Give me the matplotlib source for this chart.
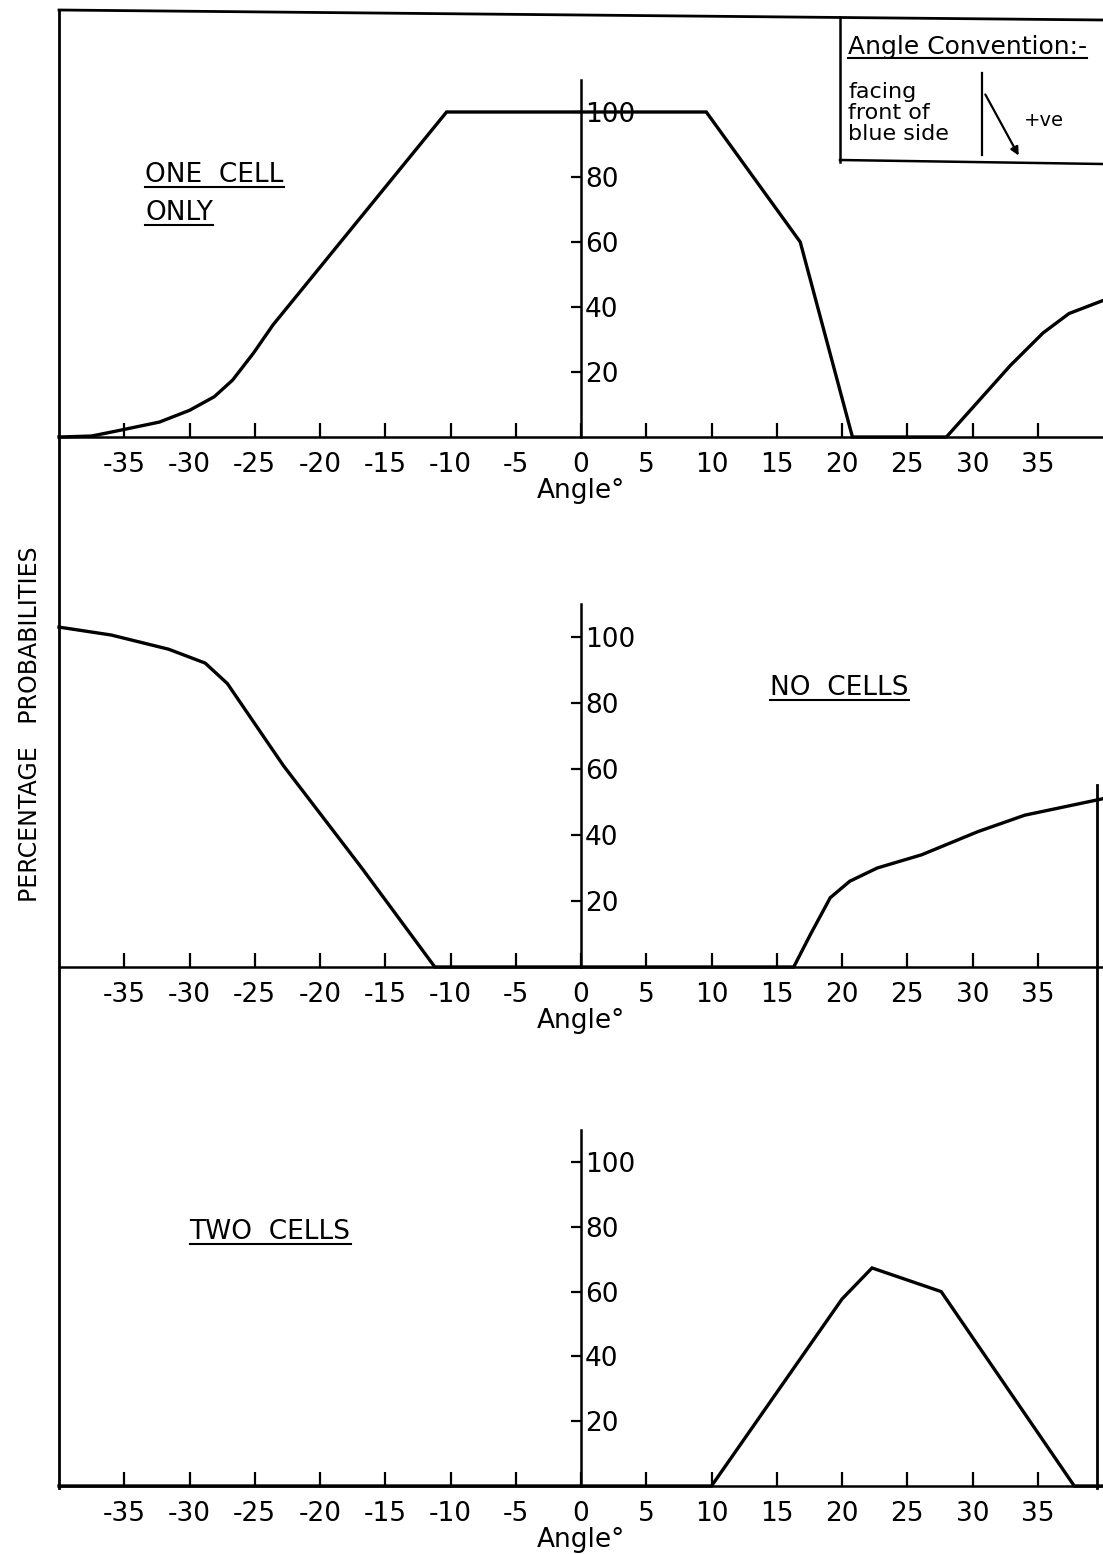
import matplotlib
matplotlib.use("Agg")
import matplotlib.pyplot as plt
import matplotlib.font_manager as fm
from matplotlib.lines import Line2D
from matplotlib.transforms import IdentityTransform

# angle (deg) vs percentage probability
one_x = [-40, -37.5, -35.4, -32.3, -30, -28.1, -26.7, -25.1, -23.6, -10.3, 9.6, 16.8, 20.8, 28.0, 32.9, 35.4, 37.4, 40]
one_y = [0, 0.3, 2, 4.6, 8.2, 12.4, 17.5, 25.8, 34.5, 100, 100, 60, 0, 0, 22, 32, 38, 42]

none_x = [-40, -36, -31.6, -28.8, -27.1, -22.8, -16.8, -11.2, 16.3, 17.6, 19.1, 20.6, 22.7, 26.1, 30.4, 34.0, 40]
none_y = [103, 100.6, 96.3, 92.1, 85.9, 61, 30, 0, 0, 10, 21, 26, 30, 34, 41, 46, 51]

two_x = [-40, 10, 20, 22.3, 27.6, 37.8, 40]
two_y = [0, 0, 57.7, 67.3, 60, 0, 0]

x_ticks = [-35, -30, -25, -20, -15, -10, -5, 0, 5, 10, 15, 20, 25, 30, 35]
y_ticks = [20, 40, 60, 80, 100]
panel_titles = [["ONE  CELL", "ONLY"], ["NO  CELLS"], ["TWO  CELLS"]]

avail = {f.name for f in fm.fontManager.ttflist}
narrow = "Liberation Sans Narrow" if "Liberation Sans Narrow" in avail else "DejaVu Sans"
plt.rcParams["font.family"] = [narrow, "DejaVu Sans"]

W, H = 1103, 1554
fig = plt.figure(figsize=(W / 100, H / 100), dpi=100)


def fx(px):
    return px / W


def fy(py):
    return (H - py) / H


def fig_line(xs, ys, lw=1.8, **kw):
    fig.add_artist(Line2D([fx(v) for v in xs], [fy(v) for v in ys],
                          transform=fig.transFigure, color="black", lw=lw, **kw))


# (pixel row of the zero line, pixels per percent)
panels = [(437, 3.25), (967, 3.30), (1486, 3.24)]
series = [(one_x, one_y), (none_x, none_y), (two_x, two_y)]
axes = []
for (zero_py, unit), (xs, ys) in zip(panels, series):
    ax = fig.add_axes([fx(59), fy(zero_py), fx(1103) - fx(59), 112 * unit / H])
    ax.patch.set_alpha(0)
    ax.set_xlim(-40, 40)
    ax.set_ylim(0, 112)
    for s in ("top", "left"):
        ax.spines[s].set_visible(False)
    ax.spines["bottom"].set_linewidth(1.8)
    ax.spines["right"].set_position(("data", 0))
    ax.spines["right"].set_bounds(0, 110)
    ax.spines["right"].set_linewidth(1.8)
    ax.yaxis.tick_right()
    ax.set_yticks(y_ticks)
    ax.set_yticklabels([str(v) for v in y_ticks])
    ax.set_xticks(x_ticks)
    ax.set_xticklabels([str(v) for v in x_ticks])
    ax.tick_params(axis="x", direction="in", length=10, width=1.6, pad=11, labelsize=19)
    ax.tick_params(axis="y", direction="in", length=7, width=1.6, pad=3, labelsize=19)
    ax.set_xlabel("Angle°", fontsize=19, labelpad=0)
    ax.plot(xs, ys, color="black", lw=2.4, clip_on=False, solid_joinstyle="miter")
    axes.append(ax)

title_pos = [(-33.4, 80.5), (14.5, 84.5), (-30.0, 78.5)]
title_texts = []
for ax, lines, (tx, ty) in zip(axes, panel_titles, title_pos):
    for i, line in enumerate(lines):
        t = ax.text(tx, ty - i * 11.5, line, fontsize=19, va="center", ha="left")
        title_texts.append(t)

fig.text(fx(30), fy(724), "PERCENTAGE   PROBABILITIES", rotation=90,
         ha="center", va="center", fontsize=17)

# outer frame
fig_line([59, 59], [10, 1488], lw=2.0)
fig_line([59, 1103], [10, 20], lw=2.0)
fig_line([1097, 1097], [785, 1488], lw=2.0)

# angle convention box
fig_line([840, 840], [17, 162], lw=1.8)
fig_line([840, 1103], [160, 164], lw=1.8)
conv = fig.text(fx(848), fy(47), "Angle Convention:-", fontsize=18,
                family="DejaVu Sans", va="center", ha="left")
title_texts.append(conv)
for row, word in zip([92, 113, 134], ["facing", "front of", "blue side"]):
    fig.text(fx(848), fy(row), word, fontsize=16, family="DejaVu Sans",
             va="center", ha="left")
fig_line([982, 982], [73, 155], lw=1.6)
fig.add_artist(matplotlib.patches.FancyArrowPatch(
    (fx(984), fy(92)), (fx(1020), fy(158)), transform=fig.transFigure,
    arrowstyle="-|>", mutation_scale=12, lw=1.6, color="black"))
fig.text(fx(1024), fy(120), "+ve", fontsize=14, family="DejaVu Sans",
         va="center", ha="left")

# underline the headings
fig.canvas.draw()
renderer = fig.canvas.get_renderer()
for t in title_texts:
    bb = t.get_window_extent(renderer)
    fig.add_artist(Line2D([bb.x0, bb.x1], [bb.y0 + 1, bb.y0 + 1],
                          transform=IdentityTransform(), color="black", lw=1.5))

fig.savefig("out.png", dpi=100)
